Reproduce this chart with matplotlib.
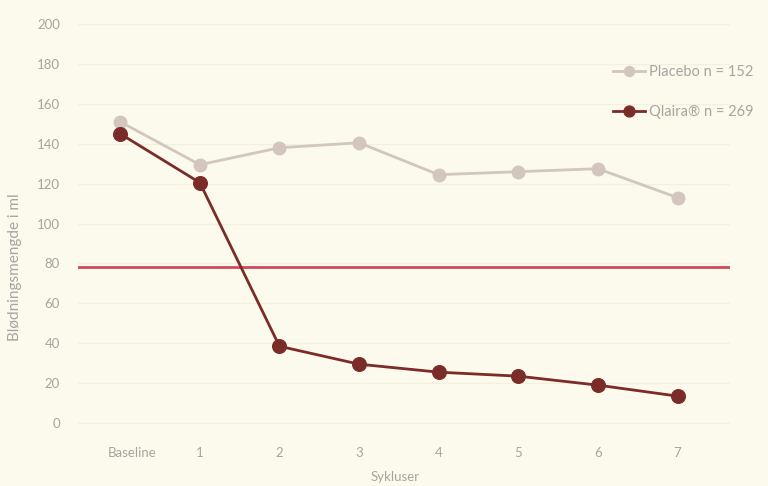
import matplotlib
matplotlib.use("Agg")
import matplotlib.pyplot as plt
from matplotlib.transforms import ScaledTranslation

# Data
cycles = ["Baseline", "1", "2", "3", "4", "5", "6", "7"]
placebo = [151, 129.5, 138, 140.5, 124.5, 126, 127.5, 113]
qlaira = [145, 120.5, 38.5, 29.5, 25.5, 23.5, 19, 13.5]
threshold = 78
yticks = [0, 20, 40, 60, 80, 100, 120, 140, 160, 180, 200]
placebo_label = "Placebo n = 152"
qlaira_label = "Qlaira\u00ae n = 269"

bg = "#FBFAEC"
grid_c = "#F3F0E0"
text_c = "#A6A59F"
placebo_c = "#D2C6BF"
qlaira_c = "#7B2C29"
ref_c = "#CF4A5E"

plt.rcParams["font.family"] = ["Lato", "DejaVu Sans"]

fig = plt.figure(figsize=(7.68, 4.86), dpi=100, facecolor=bg)
ax = fig.add_axes([0.1016, 0.0885, 0.849, 0.8825], facecolor=bg)

x = list(range(len(cycles)))
ax.plot(x, placebo, color=placebo_c, lw=2.0, marker="o", ms=9.0,
        mfc=placebo_c, mec=placebo_c, label=placebo_label, zorder=3)
ax.plot(x, qlaira, color=qlaira_c, lw=2.0, marker="o", ms=9.8,
        mfc=qlaira_c, mec=qlaira_c, label=qlaira_label, zorder=4)
ax.axhline(threshold, color=ref_c, lw=2.0, zorder=2)

ax.set_xlim(-0.53, 7.66)
ax.set_ylim(-10, 205)
ax.set_yticks(yticks)
ax.set_xticks(x)
ax.set_xticklabels(cycles)
ax.grid(axis="y", color=grid_c, lw=1.0)
ax.set_axisbelow(True)
for s in ax.spines.values():
    s.set_visible(False)
ax.tick_params(length=0, colors=text_c, labelsize=9.5)
ax.tick_params(axis="y", pad=13)
ax.tick_params(axis="x", pad=3)

# nudge the "Baseline" label to the right of its tick
base_lbl = ax.get_xticklabels()[0]
base_lbl.set_transform(base_lbl.get_transform()
                       + ScaledTranslation(12 / 100, 0, fig.dpi_scale_trans))

ax.set_ylabel("Blødningsmengde i ml", color=text_c, fontsize=11)
ax.yaxis.set_label_coords(-0.086, 0.41)
ax.set_xlabel("Sykluser", color=text_c, fontsize=9.5)
ax.xaxis.set_label_coords(0.486, -0.066)

leg = ax.legend(loc="upper left", bbox_to_anchor=(613 / 768, 1 - 65 / 486),
                bbox_transform=fig.transFigure, frameon=False,
                borderpad=0, borderaxespad=0,
                handlelength=2.2, handletextpad=0.25, labelspacing=1.8,
                fontsize=10.5, markerscale=0.8)
for t in leg.get_texts():
    t.set_color(text_c)

fig.savefig("out.png", dpi=100, facecolor=bg)
